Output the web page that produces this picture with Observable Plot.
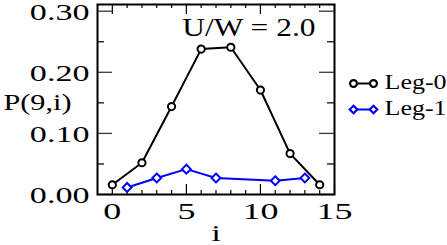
<!DOCTYPE html>
<html><head><meta charset="utf-8">
<script src="https://cdn.jsdelivr.net/npm/d3@7"></script>
<script src="https://cdn.jsdelivr.net/npm/@observablehq/plot@0.6"></script>
<style>
html,body{margin:0;padding:0;background:#fff;}
#wrap{position:relative;width:447px;height:245px;overflow:hidden;}
#legend{position:absolute;left:345px;top:70px;}
svg{overflow:visible;}
svg text{font-family:'Liberation Serif','Times New Roman',serif;}
</style></head><body>
<div id="wrap"><div id="chart"></div><div id="legend"></div></div>
<script>
// ---- data ----
const seriesNames = ["Leg-0", "Leg-1"];
const seriesColors = ["#000000", "#0000ff"];
const leg0X = [0, 2, 4, 6, 8, 10, 12, 14];
const leg0Y = [0.016, 0.052, 0.144, 0.238, 0.241, 0.171, 0.067, 0.016];
const leg1X = [1, 3, 5, 7, 11, 13];
const leg1Y = [0.0115, 0.027, 0.0415, 0.027, 0.0225, 0.027];
const xMajorTicks = [0, 5, 10, 15];
const xMinorTicks = [1, 2, 3, 4, 6, 7, 8, 9, 11, 12, 13, 14];
const yMajorTicks = [0, 0.1, 0.2, 0.3];
const yMinorTicks = [0.05, 0.15, 0.25];
const annotation = "U/W = 2.0";
const xLabel = "i";
const yLabel = "P(9,i)";

// ---- build ----
const leg0 = leg0X.map((x, i) => ({x, y: leg0Y[i]}));
const leg1 = leg1X.map((x, i) => ({x, y: leg1Y[i]}));
const FONT = "'Liberation Serif', 'Times New Roman', serif";
const W = 447, H = 245, ML = 97, MR = 113, MT = 4, MB = 51;
const FW = W - ML - MR, FH = H - MT - MB;

const chart = Plot.plot({
  width: W, height: H,
  marginLeft: ML, marginRight: MR, marginTop: MT, marginBottom: MB,
  style: {fontFamily: FONT, background: "white", color: "black"},
  x: {domain: [-1, 15], axis: null},
  y: {domain: [0, 0.311], axis: null},
  marks: [
    // ticks (inward, mirrored)
    Plot.tickX(xMajorTicks, {x: d => d, insetTop: FH - 10, stroke: "black", strokeWidth: 1.2}),
    Plot.tickX(xMajorTicks, {x: d => d, insetBottom: FH - 10, stroke: "black", strokeWidth: 1.2}),
    Plot.tickX(xMinorTicks, {x: d => d, insetTop: FH - 4, stroke: "black", strokeWidth: 1.2}),
    Plot.tickX(xMinorTicks, {x: d => d, insetBottom: FH - 4, stroke: "black", strokeWidth: 1.2}),
    Plot.tickY(yMajorTicks, {y: d => d, insetRight: FW - 15, stroke: "#444", strokeWidth: 1.4}),
    Plot.tickY(yMajorTicks, {y: d => d, insetLeft: FW - 15, stroke: "#444", strokeWidth: 1.4}),
    Plot.tickY(yMinorTicks, {y: d => d, insetRight: FW - 7, stroke: "#222", strokeWidth: 1.4}),
    Plot.tickY(yMinorTicks, {y: d => d, insetLeft: FW - 7, stroke: "#222", strokeWidth: 1.4}),
    // series
    Plot.line(leg0, {x: "x", y: "y", stroke: seriesColors[0], strokeWidth: 2}),
    Plot.line(leg1, {x: "x", y: "y", stroke: seriesColors[1], strokeWidth: 2}),
    Plot.dot(leg0, {x: "x", y: "y", r: 3.6, stroke: seriesColors[0], strokeWidth: 2, fill: "white"}),
    Plot.dot(leg1, {x: "x", y: "y", r: 4, symbol: "diamond2", stroke: seriesColors[1], strokeWidth: 2, fill: "white"}),
    // frame
    Plot.frame({stroke: "black", strokeWidth: 2}),
    // tick labels
    Plot.text(yMajorTicks, {y: d => d, text: d => d3.format(".2f")(d), frameAnchor: "left", textAnchor: "end", dx: -8, dy: 1, fontSize: 24, fill: "black", ariaDescription: "s1.42"}),
    Plot.text(xMajorTicks, {x: d => d, text: d => String(d), frameAnchor: "bottom", lineAnchor: "top", dy: 7, fontSize: 24, fill: "black", ariaDescription: "s1.5"}),
    // axis labels
    Plot.text([xLabel], {text: d => d, frameAnchor: "bottom", lineAnchor: "top", dy: 29, fontSize: 24, fill: "black", ariaDescription: "s1.45"}),
    Plot.text([yLabel], {text: d => d, frameAnchor: "left", textAnchor: "start", dx: -94, dy: 3, fontSize: 24, fill: "black", ariaDescription: "s1.26"}),
    // annotation
    Plot.text([annotation], {text: d => d, frameAnchor: "top-right", textAnchor: "end", lineAnchor: "top", dx: -19, dy: 13, fontSize: 26, fill: "black", ariaDescription: "s1.21"})
  ]
});
document.getElementById("chart").appendChild(chart);

// legend
const legRows = seriesNames.flatMap((n, i) => [{n, k: 0, c: seriesColors[i], s: i ? "diamond2" : "circle"}, {n, k: 1, c: seriesColors[i], s: i ? "diamond2" : "circle"}]);
const legend = Plot.plot({
  width: 102, height: 50, margin: 0,
  style: {fontFamily: FONT, background: "transparent"},
  x: {domain: [0, 1], range: [8, 28], axis: null},
  y: {type: "point", domain: seriesNames, range: [13, 39], padding: 0, axis: null},
  marks: [
    Plot.line(legRows, {x: "k", y: "n", z: "n", stroke: "c", strokeWidth: 2.2}),
    Plot.dot(legRows, {x: "k", y: "n", symbol: "s", stroke: "c", r: 3.4, strokeWidth: 2.2, fill: "white"}),
    Plot.text(seriesNames, {y: d => d, text: d => d, frameAnchor: "left", textAnchor: "start", dx: 39, dy: -1, fontSize: 20, fill: "black", ariaDescription: "s1.3"})
  ]
});
document.getElementById("legend").appendChild(legend);

// horizontal stretch of texts (the reference figure is stretched horizontally)
for (const g of document.querySelectorAll("g[aria-description]")) {
  const d = g.getAttribute("aria-description");
  if (!/^s[\d.]+$/.test(d)) continue;
  const s = +d.slice(1);
  for (const t of g.querySelectorAll("text")) {
    const tr = t.getAttribute("transform") || "";
    t.setAttribute("transform", tr + ` scale(${s},1)`);
  }
}
</script>
</body></html>
